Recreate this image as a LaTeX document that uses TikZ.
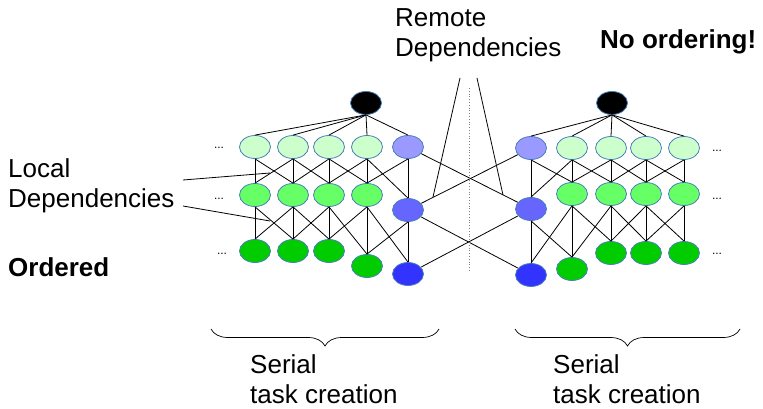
\documentclass[tikz,border=0pt]{standalone}
\usepackage{fontspec}
\setmainfont{Liberation Sans}
\usetikzlibrary{shapes.geometric, decorations.pathreplacing}
\definecolor{LightGreen}{HTML}{CCFFCC}
\definecolor{MidGreen}{HTML}{66FF66}
\definecolor{DarkGreen}{HTML}{00CC00}
\definecolor{LightBlue}{HTML}{9999FF}
\definecolor{MidBlue}{HTML}{6666FF}
\definecolor{DarkBlue}{HTML}{3333FF}
\definecolor{TaskBorder}{HTML}{4A7EBB}

\begin{document}
\begin{tikzpicture}[
            x=1pt, y=-1pt,
            font=\fontsize{26}{30}\selectfont,
            task/.style={
                ellipse, draw=TaskBorder, line width=0.8pt,
                minimum width=31pt, minimum height=23pt, inner sep=0pt
            },
            dep/.style={draw, line width=0.8pt},
            txt/.style={anchor=north west, inner sep=0pt, align=left},
            strong/.style={font=\fontsize{26}{30}\selectfont\bfseries},
            more/.style={font=\fontsize{12}{12}\selectfont, anchor=base, inner sep=0pt},
            bracket/.style={draw, line width=0.7pt, decorate, decoration={brace, mirror, amplitude=17pt}}
        ]
        \useasboundingbox (0,0) rectangle (763,409);

        % --- Task nodes: left and right cluster ---
        \node[task, fill=black] (Lroot) at (366,103) {};
        \node[task, fill=black] (Rroot) at (612,103) {};
        \foreach \n/\x/\y/\col in {
            L1-1/255/147/LightGreen, L1-2/293/147/LightGreen, L1-3/329/147/LightGreen, L1-4/367/147/LightGreen, L1-5/408/147/LightBlue,
            L2-1/255/195/MidGreen, L2-2/293/195/MidGreen, L2-3/329/195/MidGreen, L2-4/367/195/MidGreen, L2-5/408/210/MidBlue,
            L3-1/255/251/DarkGreen, L3-2/293/251/DarkGreen, L3-3/329/251/DarkGreen, L3-4/367/266/DarkGreen, L3-5/408/274/DarkBlue,
            R1-1/531/148/LightBlue, R1-2/572/148/LightGreen, R1-3/611/148/LightGreen, R1-4/646/148/LightGreen, R1-5/684/148/LightGreen,
            R2-1/531/209/MidBlue, R2-2/572/194/MidGreen, R2-3/611/194/MidGreen, R2-4/646/194/MidGreen, R2-5/684/194/MidGreen,
            R3-1/531/275/DarkBlue, R3-2/572/269/DarkGreen, R3-3/611/253/DarkGreen, R3-4/646/253/DarkGreen, R3-5/684/253/DarkGreen}
            \node[task, fill=\col] (\n) at (\x,\y) {};

        % --- Local dependencies ---
        \foreach \s in {L, R} {
            \foreach \c in {1,...,5}
                \path[dep] (\s root.south) -- (\s1-\c.north);
            \foreach \r/\t in {1/2, 2/3}
                \foreach \c in {1,...,5}
                    \foreach \d in {-1,0,1} {
                        \pgfmathtruncatemacro{\k}{\c+\d}
                        \ifnum\k>0 \ifnum\k<6
                            \path[dep] (\s\r-\c.south) -- (\s\t-\k.north);
                        \fi\fi
                    }
        }

        % --- Remote dependencies ---
        \path[dep] (L1-5) -- (R2-1);
        \path[dep] (R1-1) -- (L2-5);
        \path[dep] (L2-5) -- (R3-1);
        \path[dep] (R2-1) -- (L3-5);

        % --- Divider ---
        \coordinate (divtop) at (469,88);
        \coordinate (divbot) at (469,272);
        \draw[dotted, gray, line width=0.8pt] (divtop) -- (divbot);

        % --- Labels ---
        \node[txt] (localdep) at (8,158) {Local\\Dependencies};
        \node[txt, strong] (ordered) at (8,257) {Ordered};
        \node[txt] (remotedep) at (395,8) {Remote\\Dependencies};
        \node[txt, strong] (noorder) at (600,29) {No ordering!};
        \node[more] (dotsL1) at (219,149) {...};
        \node[more] (dotsL2) at (219,199) {...};
        \node[more] (dotsL3) at (222,254) {...};
        \node[more] (dotsR1) at (717,152) {...};
        \node[more] (dotsR2) at (717,199) {...};
        \node[more] (dotsR3) at (717,254) {...};

        % --- Pointers from the labels ---
        \coordinate (loc1) at (183,180);
        \coordinate (loc1e) at (270,173);
        \coordinate (loc2) at (183,206);
        \coordinate (loc2e) at (270,221);
        \coordinate (rem1) at (460,78);
        \coordinate (rem1e) at (433,197);
        \coordinate (rem2) at (477,78);
        \coordinate (rem2e) at (503,195);
        \path[dep] (loc1) -- (loc1e);
        \path[dep] (loc2) -- (loc2e);
        \path[dep] (rem1) -- (rem1e);
        \path[dep] (rem2) -- (rem2e);

        % --- Serial task creation ---
        \coordinate (braceL1) at (211,329);
        \coordinate (braceL2) at (439,329);
        \coordinate (braceR1) at (515,329);
        \coordinate (braceR2) at (740,329);
        \path[bracket] (braceL1) -- (braceL2);
        \path[bracket] (braceR1) -- (braceR2);
        \node[txt] (serialL) at (250,354) {Serial\\task creation};
        \node[txt] (serialR) at (553,354) {Serial\\task creation};
\end{tikzpicture}
\end{document}
